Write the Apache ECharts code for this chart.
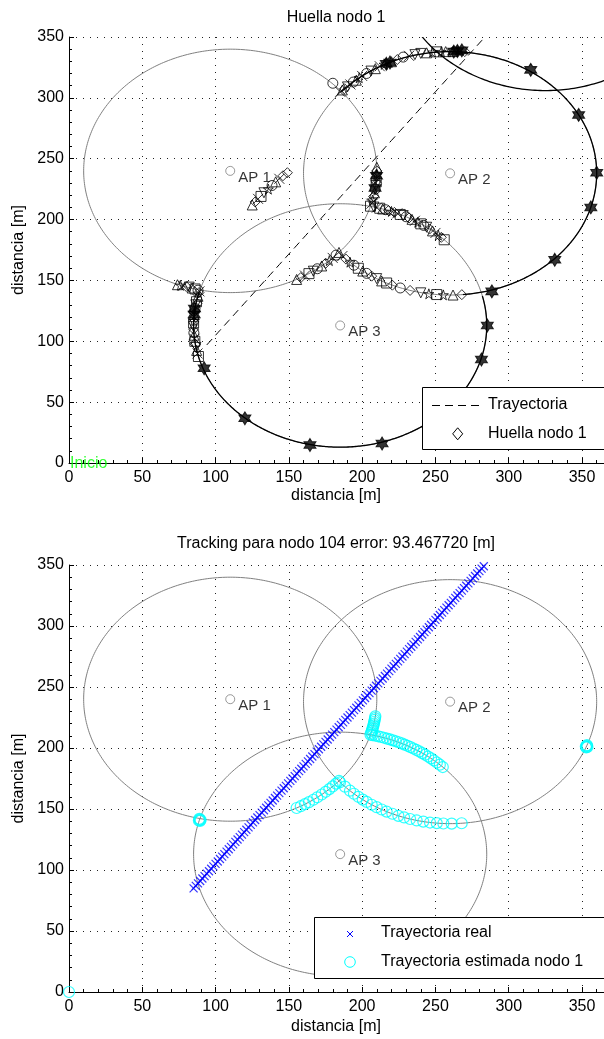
<!DOCTYPE html>
<html>
<head>
<meta charset="utf-8">
<script src="https://cdn.jsdelivr.net/npm/echarts@6/dist/echarts.min.js"></script>
<style>
  html, body { margin: 0; padding: 0; background: #fff; }
  #c { width: 604px; height: 1039px; }
</style>
</head>
<body>
<div id="c"></div>
<script>
// ---------- data ----------
const titulos = ['Huella nodo 1', 'Tracking para nodo 104 error: 93.467720 [m]'];
const nombreEje = 'distancia [m]';

// access points (centre and coverage radius, metres)
const apNombres = ['AP 1', 'AP 2', 'AP 3'];
const apX = [110, 260, 185];
const apY = [240, 238, 113];
const apRadio = [100, 100, 100];

// black range arcs of the fingerprint plot: [cx, cy, r, startDeg, endDeg]
const arcosHuella = [
  [260, 238, 100, 138, -85],
  [185, 113, 100, 164, 374],
  [325, 408, 102, 0, 360]
];

// real trajectory of node 104
const trayX = [85,86.5,88,89.5,91,92.5,94,95.5,97,98.5,
  100,101.5,103,104.5,106,107.5,109,110.5,112,113.5,
  115,116.5,118,119.5,121,122.5,124,125.5,127,128.5,
  130,131.5,133,134.5,136,137.5,139,140.5,142,143.5,
  145,146.5,148,149.5,151,152.5,154,155.5,157,158.5,
  160,161.5,163,164.5,166,167.5,169,170.5,172,173.5,
  175,176.5,178,179.5,181,182.5,184,185.5,187,188.5,
  190,191.5,193,194.5,196,197.5,199,200.5,202,203.5,
  205,206.5,208,209.5,211,212.5,214,215.5,217,218.5,
  220,221.5,223,224.5,226,227.5,229,230.5,232,233.5,
  235,236.5,238,239.5,241,242.5,244,245.5,247,248.5,
  250,251.5,253,254.5,256,257.5,259,260.5,262,263.5,
  265,266.5,268,269.5,271,272.5,274,275.5,277,278.5,
  280,281.5,283];
const trayY = [85,87,89,91,93,95,97,99,101,103,
  105,107,109,111,113,115,117,119,121,123,
  125,127,129,131,133,135,137,139,141,143,
  145,147,149,151,153,155,157,159,161,163,
  165,167,169,171,173,175,177,179,181,183,
  185,187,189,191,193,195,197,199,201,203,
  205,207,209,211,213,215,217,219,221,223,
  225,227,229,231,233,235,237,239,241,243,
  245,247,249,251,253,255,257,259,261,263,
  265,267,269,271,273,275,277,279,281,283,
  285,287,289,291,293,295,297,299,301,303,
  305,307,309,311,313,315,317,319,321,323,
  325,327,329,331,333,335,337,339,341,343,
  345,347,349];
const trayInicioHuella = 6; // dashed trajectory drawn from this sample on

// estimated trajectory of node 1
const estimada = [
  [0,0],
  [88.6,140.6],[89.2,141.4],[89.8,141.0],[88.9,141.9],[89.4,140.2],
  [155.3,150.8],[158.1,152.3],[161.0,154.0],[163.7,155.6],[166.7,157.6],[169.4,159.6],
  [172.4,161.9],[175.1,164.1],[177.6,166.3],[179.9,168.5],[182.2,170.8],[184.2,173.0],
  [184.9,171.9],[188.3,168.3],[191.7,165.0],[194.4,162.5],[197.4,160.0],[200.4,157.7],
  [203.1,155.8],[206.5,153.5],[209.9,151.5],[213.3,149.6],[216.7,147.9],[220.6,146.1],
  [224.7,144.4],[228.6,143.1],[232.7,141.8],[237.2,140.6],[241.7,139.7],[246.3,138.9],
  [250.9,138.4],[255.4,138.1],[261.1,138.0],[267.9,138.3],
  [205.7,211],[206.1,212.5],[206.6,214],[207.0,215.5],[207.3,217],[207.7,218.5],
  [208.0,220],[208.3,221.5],[208.5,223],[208.8,224.5],[209.0,226],
  [207,210.6],[209,210.1],[211,209.6],[213,209.0],[215,208.4],[217,207.7],[219,207.0],
  [221,206.3],[223,205.5],[225,204.7],[227,203.8],[229,202.8],[231,201.8],[233,200.7],
  [235,199.6],[237,198.4],[239,197.2],[241,195.8],[243,194.5],[245,193.0],[247,191.5],
  [249,189.8],[251,188.1],[253,186.3],[255,184.4],
  [352.6,201.2],[353.2,201.8],[353.7,200.9],[352.9,200.5],[353.4,202.3]
];

// fingerprint samples of node 1: [x, y, marker index]
const huella = [
  [125,212,2],[127,214.5,6],[129,217,1],[131,219,5],[133,222,3],[136,225,4],
  [138.5,228,0],[141,231,2],[143.5,233.5,1],[146,236,6],[149,238.5,6],
  [180,312,0],
  [185,305,1],[186.5,306.5,2],[188,307.5,6],[190,309,3],[192,311,1],[194,313,0],
  [196,314.5,2],[198,316.5,4],[200,318,1],[203,320,0],[206,322,3],[209,324,2],
  [212,326,1],[215,327.5,4],[220,329.7,2],[224,331.5,6],[228,333.5,0],[232,334.5,1],
  [236,335.5,3],[240,336.5,3],[244,337,2],[248,337.5,4],[251,337.8,5],[254,338,4],
  [257,338,2],[262,338,2],[270,338,6],
  [210,243,2],[210,240,6],[210,237,4],[209.8,234,1],[209.6,231,5],[209.3,228,3],
  [208.9,225,0],[208.4,222,2],[207.8,219,6],[207.1,216,4],[206.3,213,1],[205.7,211,5],
  [208,210.3,3],[210,209.8,1],[212,209.3,5],[214,208.7,2],[216,208.1,0],[218,207.4,6],
  [220,206.7,4],[222,205.9,6],[224,205.1,1],[226,204.2,5],[228,203.3,3],[230,202.3,0],
  [232,201.3,6],[234,200.2,2],[236,199.0,1],[238,197.8,4],[240,196.5,5],[242,195.2,0],
  [244,193.7,3],[246,192.2,6],[248,190.7,2],[250,189.0,1],[252,187.2,4],[254,185.4,6],
  [256,183.4,5],
  [155.3,150.8,2],[158.1,152.3,6],[161.0,154.0,1],[163.7,155.6,5],[166.7,157.6,3],
  [169.4,159.6,0],[172.4,161.9,2],[175.1,164.1,6],[177.6,166.3,4],[179.9,168.5,1],
  [182.2,170.8,0],[184.2,173.0,2],
  [186.5,170,1],[189,167.5,6],[191.7,165.0,4],[194.4,162.5,0],[197.4,160.0,5],
  [200.4,157.7,2],[203.1,155.8,0],[206.5,153.5,6],[209.9,151.5,3],[213.3,149.6,2],
  [216.7,147.9,5],[220.6,146.1,6],[226,143.8,0],[232.7,141.8,6],[240,139.8,3],
  [245.5,139,4],[250.9,138.4,5],[255.4,138.1,4],[262,138,2],[268,138.3,6],
  [74,146.5,2],[76,146,4],[78,145.5,1],[80,145,6],[82,144.5,3],[84,143.8,2],
  [86,143,5],[88,142,0],[89,141,1],
  [88.7,140,6],[88,137,2],[87.5,135,1],[87,132.5,5],[86.5,130,3],[86,127,0],
  [85.7,125,6],[85.5,122,2],[85.25,120,1],[85.1,117,4],[85,115,5],[85,112,3],
  [85.05,110,6],[85.2,107,0],[85.3,105,2],[85.6,102,1],[85.85,100,5],[86.2,97.5,6],
  [86.6,95,3],[87.1,92.5,2],[87.7,90,1],[88.3,87.5,5]
];

// filled fingerprint samples
const huellaRellena = [
  [268,339],[265,338.5],[262.5,338],[219,329],[216.5,328],[315,323],[347.7,286],
  [360,238.5],[356,210],[331.4,167],[288.5,141],[285.4,113],[281.4,85],[213.6,16],
  [164.4,14.8],[120,36.7],[92.2,77.8],[85.6,127],[85.4,122],[209.8,236],[208.8,226]
];

const inicio = [[0, 0]];

// ---------- styling ----------
const FONT = '"Liberation Sans", Arial, Helvetica, sans-serif';
const GRIS = '#808080';
const SIM = {
  cruz: 'path://M0,0L10,10M10,0L0,10',
  trianguloInv: 'path://M0,0L10,0L5,9Z',
  pentagrama: 'path://M10,0L12.25,6.91L19.51,6.91L13.63,11.18L15.88,18.09L10,13.82L4.12,18.09L6.37,11.18L0.49,6.91L7.75,6.91Z',
  hexagrama: 'path://M10,0L12.89,5L18.66,5L15.77,10L18.66,15L12.89,15L10,20L7.11,15L1.34,15L4.23,10L1.34,5L7.11,5Z'
};
const marcas = ['circle', SIM.cruz, 'triangle', SIM.trianguloInv, SIM.pentagrama, 'rect', 'diamond', SIM.hexagrama];

const circulosAP = apX.map((x, i) => [x, apY[i], apRadio[i], 0, 360]);
const puntosAP = apX.map((x, i) => ({ value: [x, apY[i]], name: apNombres[i] }));
const trayectoria = trayX.map((x, i) => [x, trayY[i]]);

function arco(ancho) {
  return function (params, api) {
    const cx = api.value(0), cy = api.value(1), r = api.value(2);
    const a0 = api.value(3), a1 = api.value(4);
    const n = 360, pts = [];
    for (let i = 0; i <= n; i++) {
      const t = (a0 + (a1 - a0) * i / n) * Math.PI / 180;
      pts.push(api.coord([cx + r * Math.cos(t), cy + r * Math.sin(t)]));
    }
    return {
      type: 'polyline',
      shape: { points: pts },
      style: { stroke: api.visual('color'), fill: 'none', lineWidth: ancho }
    };
  };
}

function ejeX(g) {
  return {
    type: 'value', gridIndex: g, min: 0, max: 400, interval: 50,
    axisLine: { show: true, onZero: false, lineStyle: { color: '#000', width: 1 } },
    axisTick: { show: true, inside: true, length: 5, lineStyle: { color: '#000' } },
    minorTick: { show: true, splitNumber: 5, length: 3, lineStyle: { color: '#000' } },
    axisLabel: { fontSize: 16, color: '#000', fontFamily: FONT, margin: 7, showMaxLabel: false },
    splitLine: { show: true, lineStyle: { color: '#222', width: 1, type: [1, 6] } }
  };
}
function ejeY(g) {
  return {
    type: 'value', gridIndex: g, min: 0, max: 350, interval: 50,
    name: nombreEje, nameLocation: 'middle', nameGap: 41,
    nameTextStyle: { fontSize: 16, color: '#000', fontFamily: FONT },
    axisLine: { show: true, onZero: false, lineStyle: { color: '#000', width: 1 } },
    axisTick: { show: true, inside: true, length: 5, lineStyle: { color: '#000' } },
    minorTick: { show: true, splitNumber: 5, length: 3, lineStyle: { color: '#000' } },
    axisLabel: { fontSize: 16, color: '#000', fontFamily: FONT, margin: 5 },
    splitLine: { show: true, lineStyle: { color: '#222', width: 1, type: [1, 6] } }
  };
}

function serieAPs(g) {
  return {
    type: 'scatter', xAxisIndex: g, yAxisIndex: g, clip: false, z: 6,
    data: puntosAP, symbol: 'circle', symbolSize: 9,
    itemStyle: { color: 'transparent', borderColor: GRIS, borderWidth: 1 },
    label: {
      show: true, position: 'right', distance: 3, offset: [0, 6.5],
      formatter: p => p.name, fontSize: 15, color: '#000', fontFamily: FONT
    },
    emphasis: { disabled: true }
  };
}

function textoEje(x, y) {
  return { type: 'text', z: 50, x: x, y: y,
    style: { text: nombreEje, font: '16px ' + FONT, fill: '#000', align: 'center', verticalAlign: 'middle' } };
}

const option = {
  animation: false,
  backgroundColor: '#fff',
  title: [
    { text: titulos[0], left: 336, top: 10, textAlign: 'center', padding: 0,
      textStyle: { fontSize: 16, fontWeight: 'normal', color: '#000', fontFamily: FONT } },
    { text: titulos[1], left: 336, top: 536, textAlign: 'center', padding: 0,
      textStyle: { fontSize: 16, fontWeight: 'normal', color: '#000', fontFamily: FONT } }
  ],
  grid: [
    { left: 69, width: 586.3, top: 37, height: 426, outerBoundsMode: 'none', containLabel: false },
    { left: 69, width: 586.3, top: 565, height: 427, outerBoundsMode: 'none', containLabel: false }
  ],
  xAxis: [ejeX(0), ejeX(1)],
  yAxis: [ejeY(0), ejeY(1)],
  series: [
    // ---- fingerprint plot ----
    { type: 'custom', xAxisIndex: 0, yAxisIndex: 0, clip: true, z: 1,
      renderItem: arco(1), data: circulosAP, itemStyle: { color: GRIS }, silent: true },
    { type: 'custom', xAxisIndex: 0, yAxisIndex: 0, clip: true, z: 2,
      renderItem: arco(1.3), data: arcosHuella, itemStyle: { color: '#000' }, silent: true },
    { type: 'line', xAxisIndex: 0, yAxisIndex: 0, z: 3, showSymbol: false,
      data: trayectoria.slice(trayInicioHuella),
      lineStyle: { color: '#000', width: 1, type: [8, 5] }, silent: true },
    { type: 'scatter', xAxisIndex: 0, yAxisIndex: 0, clip: false, z: 4,
      data: huella, symbol: v => marcas[v[2]], symbolSize: 10,
      itemStyle: { color: 'none', borderColor: '#000', borderWidth: 1 }, silent: true },
    { type: 'scatter', xAxisIndex: 0, yAxisIndex: 0, clip: false, z: 5,
      data: huellaRellena, symbol: SIM.hexagrama, symbolSize: [12, 13],
      itemStyle: { color: '#000', borderColor: '#000', borderWidth: 1 }, silent: true },
    serieAPs(0),
    { type: 'scatter', xAxisIndex: 0, yAxisIndex: 0, clip: false, z: 7,
      data: inicio, symbolSize: 0,
      label: { show: true, position: 'right', distance: 1, offset: [0, 1], formatter: 'Inicio',
        fontSize: 16, color: '#00ff00', fontFamily: FONT }, silent: true },

    // ---- tracking plot ----
    { type: 'custom', xAxisIndex: 1, yAxisIndex: 1, clip: true, z: 1,
      renderItem: arco(1), data: circulosAP, itemStyle: { color: GRIS }, silent: true },
    { type: 'scatter', xAxisIndex: 1, yAxisIndex: 1, clip: false, z: 3,
      data: trayectoria, symbol: SIM.cruz, symbolSize: 8,
      itemStyle: { color: 'none', borderColor: '#0000ff', borderWidth: 1.2 }, silent: true },
    { type: 'scatter', xAxisIndex: 1, yAxisIndex: 1, clip: false, z: 4,
      data: estimada, symbol: 'circle', symbolSize: 11,
      itemStyle: { color: 'transparent', borderColor: '#00ffff', borderWidth: 1.2 }, silent: true },
    serieAPs(1)
  ],
  graphic: [
    // x-axis names, centred under each plot
    textoEje(336, 496),
    textoEje(336, 1027),

    // legend of the fingerprint plot
    { type: 'rect', z: 100, shape: { x: 422.5, y: 387.5, width: 200, height: 62 },
      style: { fill: '#fff', stroke: '#000', lineWidth: 1 } },
    { type: 'line', z: 101, shape: { x1: 432, y1: 405.5, x2: 482, y2: 405.5 },
      style: { stroke: '#000', lineWidth: 1, lineDash: [8, 5] } },
    { type: 'text', z: 101, x: 488, y: 405,
      style: { text: 'Trayectoria', font: '16px ' + FONT, fill: '#000', verticalAlign: 'middle' } },
    { type: 'polygon', z: 101,
      shape: { points: [[457.7, 427.8], [462.7, 433.8], [457.7, 439.8], [452.7, 433.8]] },
      style: { fill: 'none', stroke: '#000', lineWidth: 1 } },
    { type: 'text', z: 101, x: 488, y: 434,
      style: { text: 'Huella nodo 1', font: '16px ' + FONT, fill: '#000', verticalAlign: 'middle' } },

    // legend of the tracking plot
    { type: 'rect', z: 100, shape: { x: 314.5, y: 917.5, width: 300, height: 61 },
      style: { fill: '#fff', stroke: '#000', lineWidth: 1 } },
    { type: 'line', z: 101, shape: { x1: 347, y1: 931, x2: 353, y2: 937 },
      style: { stroke: '#0000ff', lineWidth: 1 } },
    { type: 'line', z: 101, shape: { x1: 353, y1: 931, x2: 347, y2: 937 },
      style: { stroke: '#0000ff', lineWidth: 1 } },
    { type: 'text', z: 101, x: 381, y: 933,
      style: { text: 'Trayectoria real', font: '16px ' + FONT, fill: '#000', verticalAlign: 'middle' } },
    { type: 'circle', z: 101, shape: { cx: 350, cy: 962, r: 5.3 },
      style: { fill: 'none', stroke: '#00ffff', lineWidth: 1 } },
    { type: 'text', z: 101, x: 381, y: 961.5,
      style: { text: 'Trayectoria estimada nodo 1', font: '16px ' + FONT, fill: '#000', verticalAlign: 'middle' } }
  ]
};

const chart = echarts.init(document.getElementById('c'), null, { renderer: 'canvas', width: 604, height: 1039 });
chart.setOption(option);
</script>
</body>
</html>
